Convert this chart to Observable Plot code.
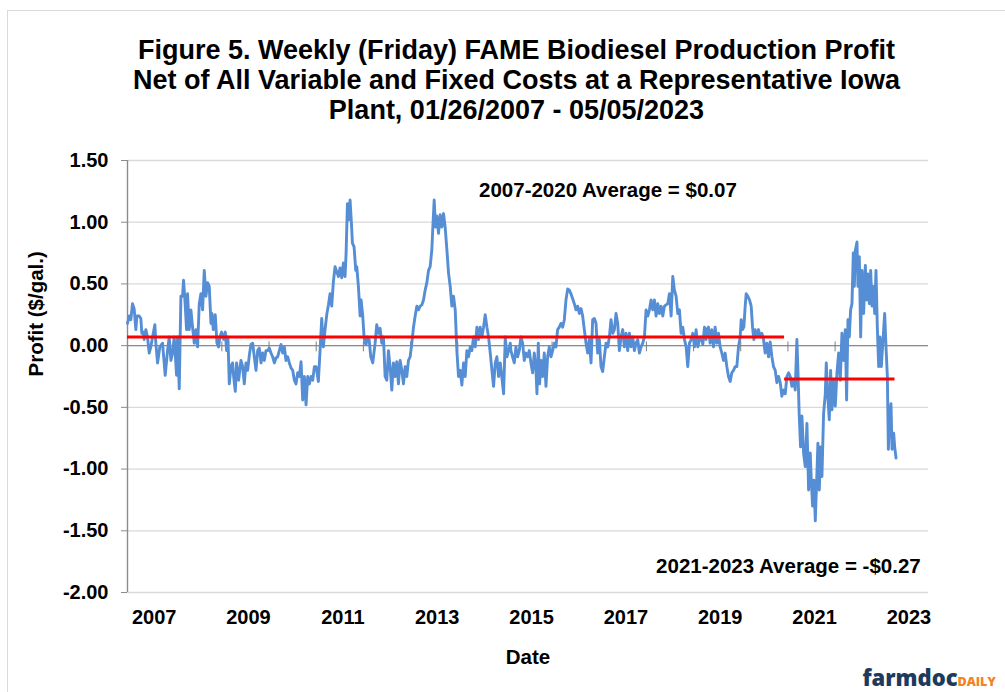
<!DOCTYPE html>
<html>
<head>
<meta charset="utf-8">
<script src="https://cdn.jsdelivr.net/npm/d3@7"></script>
<script src="https://cdn.jsdelivr.net/npm/@observablehq/plot@0.6"></script>
<style>
html, body { margin: 0; padding: 0; background: #fff; overflow: hidden; width: 1005px; height: 692px; }
#wrap { position: relative; width: 1005px; height: 692px; overflow: hidden; }
#wrap svg { position: absolute; left: 0; top: 0; }
#border { position: absolute; left: 7px; top: 10px; width: 1300px; height: 1000px; border: 1px solid #d9d9d9; pointer-events: none; }
</style>
</head>
<body>
<div id="wrap"></div>
<script>
// ---- Data ----
const titleLines = [
  "Figure 5. Weekly (Friday) FAME Biodiesel Production Profit",
  "Net of All Variable and Fixed Costs at a Representative Iowa",
  "Plant, 01/26/2007 - 05/05/2023"
];
const yAxisTitle = "Profit ($/gal.)";
const xAxisTitle = "Date";

// week (decimal year) of each weekly observation sampled from the line
const weekYear = [
  2007.070,2007.105,2007.141,2007.176,2007.211,2007.247,2007.268,2007.318,2007.353,2007.374,
  2007.402,2007.424,2007.459,2007.494,2007.530,2007.565,2007.601,2007.650,2007.671,2007.707,
  2007.756,2007.813,2007.869,2007.919,2007.954,2007.990,2008.025,2008.060,2008.110,2008.131,
  2008.167,2008.202,2008.237,2008.258,2008.287,2008.322,2008.343,2008.379,2008.414,2008.449,
  2008.485,2008.520,2008.556,2008.591,2008.626,2008.662,2008.697,2008.732,2008.768,2008.803,
  2008.839,2008.860,2008.888,2008.930,2008.966,2009.001,2009.030,2009.065,2009.107,2009.143,
  2009.171,2009.199,2009.228,2009.263,2009.298,2009.320,2009.355,2009.383,2009.426,2009.475,
  2009.511,2009.546,2009.581,2009.617,2009.652,2009.687,2009.723,2009.758,2009.794,2009.829,
  2009.864,2009.900,2009.935,2009.970,2010.006,2010.041,2010.077,2010.112,2010.147,2010.183,
  2010.218,2010.253,2010.289,2010.324,2010.360,2010.395,2010.430,2010.466,2010.501,2010.536,
  2010.572,2010.607,2010.642,2010.678,2010.713,2010.749,2010.784,2010.819,2010.855,2010.890,
  2010.925,2010.961,2010.996,2011.032,2011.067,
  2011.081,2011.116,2011.152,2011.187,2011.222,2011.258,2011.293,2011.329,2011.364,2011.399,
  2011.435,2011.470,2011.505,2011.541,2011.576,2011.612,2011.647,2011.682,2011.704,2011.732,
  2011.760,2011.788,2011.817,2011.838,2011.873,2011.909,2011.930,2011.965,2012.001,2012.022,
  2012.057,2012.085,2012.107,2012.128,2012.156,2012.192,2012.227,2012.269,2012.319,2012.354,
  2012.390,2012.425,2012.460,2012.496,2012.531,2012.567,2012.602,2012.637,2012.673,2012.708,
  2012.743,2012.779,2012.814,2012.850,2012.885,2012.920,2012.956,2012.991,2013.026,2013.062,
  2013.097,2013.133,2013.168,2013.203,2013.239,2013.274,2013.309,2013.345,2013.380,2013.416,
  2013.451,2013.486,2013.522,2013.543,2013.571,2013.599,2013.628,2013.663,2013.698,2013.734,
  2013.769,2013.804,2013.840,2013.875,2013.911,2013.946,2013.981,2014.017,2014.052,2014.087,
  2014.123,2014.158,2014.194,2014.229,2014.264,2014.300,2014.335,2014.370,2014.406,2014.441,
  2014.477,2014.512,2014.547,2014.583,2014.618,2014.653,2014.689,2014.724,2014.760,2014.795,
  2014.830,2014.866,2014.901,2014.936,2014.972,2015.007,2015.043,2015.078,2015.113,2015.149,
  2015.184,
  2015.198,2015.233,2015.269,2015.304,2015.339,2015.375,2015.410,2015.446,2015.481,2015.516,
  2015.552,2015.587,2015.622,2015.658,2015.693,2015.729,2015.750,2015.778,2015.806,2015.835,
  2015.870,2015.905,2015.941,2015.976,2016.012,2016.047,2016.082,2016.118,2016.153,2016.188,
  2016.224,2016.259,2016.295,2016.330,2016.365,2016.401,2016.436,2016.471,2016.507,2016.542,
  2016.577,2016.613,2016.648,2016.684,2016.719,2016.754,2016.790,2016.825,2016.860,2016.896,
  2016.931,2016.967,2017.002,2017.037,2017.073,2017.108,2017.143,2017.179,2017.214,2017.250,
  2017.285,2017.320,2017.356,2017.391,2017.426,2017.462,2017.497,2017.532,2017.568,2017.603,
  2017.639,2017.674,2017.709,2017.745,2017.780,2017.815,2017.851,2017.886,2017.922,2017.957,
  2017.992,2018.028,2018.063,2018.098,2018.134,2018.169,2018.205,2018.240,2018.275,2018.311,
  2018.346,2018.381,2018.417,2018.452,2018.487,2018.523,2018.558,2018.594,2018.629,2018.664,
  2018.700,2018.735,2018.770,2018.806,2018.841,2018.877,2018.912,2018.947,2018.983,2019.018,
  2019.053,2019.089,2019.124,2019.160,2019.195,2019.230,2019.266,2019.301,2019.336,
  2019.350,2019.386,2019.421,2019.456,2019.492,2019.527,2019.563,2019.598,2019.633,2019.669,
  2019.704,2019.739,2019.775,2019.810,2019.846,2019.881,2019.916,2019.952,2019.987,2020.022,
  2020.058,2020.079,2020.107,2020.136,2020.164,2020.185,2020.221,2020.256,2020.291,2020.320,
  2020.348,2020.376,2020.411,2020.447,2020.482,2020.518,2020.553,2020.588,2020.624,2020.659,
  2020.694,2020.730,2020.765,2020.801,2020.836,2020.871,2020.907,2020.942,2020.977,2021.013,
  2021.048,2021.084,2021.119,2021.154,2021.190,2021.225,2021.260,2021.282,2021.310,2021.338,
  2021.367,2021.402,2021.437,2021.473,2021.508,2021.543,2021.565,2021.593,2021.621,2021.650,
  2021.678,2021.706,2021.735,2021.763,2021.791,2021.826,2021.862,2021.883,2021.911,2021.947,
  2021.975,2022.003,2022.039,2022.074,2022.109,2022.145,2022.180,2022.215,2022.251,2022.286,
  2022.314,2022.343,2022.371,2022.399,2022.428,2022.456,2022.477,2022.499,2022.534,2022.555,
  2022.583,2022.612,2022.640,2022.675,2022.711,2022.739,2022.767,2022.796,2022.824,2022.852,
  2022.880,2022.909,2022.937,2022.965,2022.994,2023.022,2023.050,2023.086,2023.121,2023.149,
  2023.178,2023.199,2023.227,2023.255,2023.277,2023.312,2023.333,2023.362
];

// profit, $/gal., at each weekYear
const profit = [
  0.18,0.24,0.21,0.34,0.30,0.13,0.24,0.24,0.22,0.10,
  0.11,0.05,0.13,0.07,-0.06,-0.01,0.07,0.17,0.02,-0.14,
  -0.01,0.02,-0.24,-0.04,0.07,-0.12,-0.06,0.07,-0.24,0.07,
  -0.35,0.40,0.40,0.53,0.37,0.13,0.42,0.13,0.29,0.15,
  0.02,0.13,-0.01,0.34,0.42,0.29,0.61,0.40,0.51,0.48,
  0.18,0.26,0.13,0.25,0.02,-0.01,0.07,0.11,0.05,0.11,
  -0.04,0.07,-0.31,-0.17,-0.14,-0.25,-0.37,-0.14,-0.28,-0.12,
  -0.17,-0.31,-0.14,-0.20,-0.08,0.01,0.02,-0.09,-0.20,-0.04,
  -0.02,-0.14,-0.06,-0.12,-0.04,-0.04,-0.02,-0.06,-0.09,-0.14,
  -0.10,-0.09,-0.04,0.01,-0.06,-0.01,-0.12,-0.09,-0.14,-0.18,
  -0.20,-0.28,-0.31,-0.22,-0.25,-0.13,-0.44,-0.25,-0.48,-0.25,
  -0.31,-0.25,-0.28,-0.17,-0.17,
  -0.20,-0.29,-0.04,0.22,-0.01,0.13,0.25,0.33,0.42,0.32,
  0.52,0.64,0.60,0.56,0.63,0.55,0.67,0.56,0.75,1.15,
  1.02,1.18,0.99,0.83,0.80,0.61,0.64,0.48,0.24,0.37,
  0.24,0.07,0.02,0.01,0.07,0.05,-0.09,-0.14,0.02,0.17,
  0.10,0.14,0.02,0.07,-0.25,-0.28,-0.04,-0.17,-0.36,-0.14,
  -0.25,-0.13,-0.31,-0.12,-0.20,-0.31,-0.17,-0.25,-0.12,-0.09,
  0.02,0.15,0.24,0.32,0.29,0.32,0.33,0.37,0.45,0.51,
  0.61,0.64,0.78,0.96,1.18,0.96,1.05,0.91,1.06,0.96,
  1.07,0.96,0.78,0.59,0.48,0.32,0.40,0.29,-0.04,-0.25,
  -0.20,-0.32,-0.14,-0.25,-0.04,-0.09,-0.01,-0.04,0.07,-0.01,
  0.15,0.05,0.15,0.07,0.15,0.25,0.15,0.07,-0.06,-0.20,
  -0.33,-0.14,-0.09,-0.25,-0.14,-0.26,-0.39,0.07,-0.09,-0.04,
  0.02,
  -0.04,-0.09,-0.14,-0.01,-0.09,-0.04,0.07,0.02,-0.12,-0.06,
  -0.09,-0.04,-0.14,-0.22,-0.06,-0.20,-0.39,0.02,-0.31,-0.12,
  -0.25,-0.06,-0.33,-0.09,-0.01,-0.09,-0.04,0.02,-0.01,0.13,
  0.15,0.18,0.15,0.21,0.37,0.46,0.45,0.42,0.38,0.34,
  0.29,0.32,0.26,0.30,0.24,0.13,0.02,-0.06,0.05,-0.14,
  0.21,0.22,0.18,-0.06,0.05,-0.17,-0.21,-0.09,0.02,-0.01,
  0.07,0.21,0.10,0.13,0.26,0.18,-0.04,0.07,0.13,-0.01,
  0.10,-0.04,0.10,-0.01,0.07,-0.04,0.02,0.05,-0.06,-0.01,
  0.02,0.07,0.29,0.24,0.29,0.37,0.29,0.37,0.24,0.34,
  0.26,0.32,0.24,0.32,0.33,0.34,0.42,0.24,0.56,0.45,
  0.40,0.26,0.29,0.10,0.15,0.05,-0.01,-0.17,0.02,0.05,
  0.10,-0.01,0.13,-0.01,0.05,0.07,0.01,0.15,0.05,
  0.13,0.15,0.02,0.13,-0.01,0.15,0.02,0.10,-0.01,-0.06,
  -0.12,-0.06,-0.17,-0.25,-0.29,-0.22,-0.20,-0.17,-0.17,-0.01,
  0.07,0.21,0.13,0.15,0.32,0.42,0.40,0.37,0.32,0.15,
  0.05,0.13,0.07,0.13,0.07,0.10,0.05,-0.06,0.02,-0.09,
  0.03,-0.09,-0.17,-0.20,-0.30,-0.25,-0.30,-0.41,-0.36,-0.39,
  -0.25,-0.22,-0.25,-0.33,-0.28,-0.36,0.05,-0.20,-0.57,-0.82,
  -0.57,-0.87,-0.98,-0.63,-1.17,-0.87,-1.09,-1.30,-1.09,-1.42,
  -1.11,-0.79,-1.17,-0.82,-1.06,-0.55,-0.39,-0.14,-0.39,-0.60,
  -0.20,-0.52,-0.28,-0.49,-0.22,-0.06,-0.28,0.10,-0.12,0.13,
  -0.44,0.21,0.07,0.29,0.34,0.75,0.48,0.77,0.84,0.48,
  0.72,0.07,0.61,0.26,0.65,0.37,0.58,0.34,0.61,0.32,
  0.48,0.26,0.61,0.15,-0.17,0.07,-0.17,0.05,0.26,-0.01,
  -0.25,-0.84,-0.55,-0.47,-0.84,-0.71,-0.82,-0.91
];

// period averages (red lines)
const avgLabels = ["2007-2020 Average = $0.07", "2021-2023 Average = -$0.27"];
const avgValue  = [0.07, -0.27];
const avgStart  = [2007.07, 2021.00];
const avgEnd    = [2020.999, 2023.34];

// axes
const yTicks = [-2, -1.5, -1, -0.5, 0, 0.5, 1, 1.5];
const xTickYears = [2007, 2009, 2011, 2013, 2015, 2017, 2019, 2021, 2023];
const yearMarks = [2008, 2009, 2010, 2011, 2012, 2013, 2014, 2015, 2016, 2017, 2018, 2019, 2020, 2021, 2022, 2023];

// ---- Layout helpers (positions only) ----
const xDomain = [2007.07, 2024.05];
const yearStartOffset = 0.07;   // axis years begin at Jan 26
const labelOffset = 0.635;      // labels centred within each year slot
const series = weekYear.map((t, i) => ({t, v: profit[i]}));
const avgSegs = avgValue.map((v, i) => ({v, x1: avgStart[i], x2: avgEnd[i]}));
const annX = [2017.254, 2021.08];
const annY = [1.256, -1.789];

const font = "'Liberation Sans', Arial, Helvetica, sans-serif";

const chart = Plot.plot({
  width: 1005,
  height: 692,
  marginLeft: 127,
  marginRight: 77,
  marginTop: 160,
  marginBottom: 100,
  style: {fontFamily: font, color: "black", background: "transparent", fontSize: "20px"},
  x: {type: "linear", domain: xDomain, label: null},
  y: {domain: [-2, 1.5], label: null},
  marks: [
    Plot.gridY(yTicks, {stroke: "#d9d9d9", strokeOpacity: 1, strokeWidth: 1.3}),
    Plot.ruleY([0], {stroke: "#8c8c8c", strokeWidth: 1.4}),
    Plot.ruleX(yearMarks.map(y => y + yearStartOffset), {y1: -0.05, y2: 0.03, stroke: "#7f7f7f", strokeWidth: 1}),
    Plot.ruleX([xDomain[0]], {stroke: "#8c8c8c", strokeWidth: 1.4}),
    Plot.axisY(yTicks, {
      tickSize: 6, tickPadding: 13, tickFormat: d => d.toFixed(2),
      fontSize: 20, fontWeight: "bold", stroke: "#8c8c8c", fill: "black", label: null
    }),
    Plot.axisX(xTickYears.map(y => y + labelOffset), {
      tickSize: 0, tickPadding: 17, tickFormat: d => String(Math.floor(d)),
      fontSize: 20, fontWeight: "bold", fill: "black", label: null
    }),
    Plot.line(series, {x: "t", y: "v", stroke: "#558ed5", strokeWidth: 2.9, strokeLinejoin: "round", strokeLinecap: "round"}),
    Plot.ruleY(avgSegs, {y: "v", x1: "x1", x2: "x2", stroke: "#ff0000", strokeWidth: 3}),
    Plot.text(avgLabels, {x: annX, y: annY, fontSize: 20.5, fontWeight: "bold", fill: "black"}),
    Plot.text([titleLines.join("\n")], {
      frameAnchor: "top", dx: -11.5, dy: -41.3, lineAnchor: "bottom", lineHeight: 30 / 27,
      fontSize: 27, fontWeight: "bold", fill: "black"
    }),
    Plot.text([yAxisTitle], {frameAnchor: "left", dx: -91, rotate: -90, fontSize: 20.5, fontWeight: "bold", fill: "black"}),
    Plot.text([xAxisTitle], {frameAnchor: "bottom", dy: 71, fontSize: 20.5, fontWeight: "bold", fill: "black"}),
    Plot.text(["farmdoc"], {
      frameAnchor: "bottom-right", dx: -66, dy: 93.5, textAnchor: "start", lineAnchor: "bottom",
      fontSize: 22, fontWeight: 800, fontFamily: "'Open Sans', 'DejaVu Sans', sans-serif", fill: "#203a5e"
    }),
    Plot.text(["DAILY"], {
      frameAnchor: "bottom-right", dx: 29, dy: 93.5, textAnchor: "start", lineAnchor: "bottom",
      fontSize: 12.5, fontWeight: 800, fontFamily: "'Open Sans', 'DejaVu Sans', sans-serif", fill: "#f58220"
    })
  ]
});

const wrap = document.getElementById("wrap");
wrap.appendChild(chart);
const border = document.createElement("div");
border.id = "border";
wrap.appendChild(border);
</script>
</body>
</html>
